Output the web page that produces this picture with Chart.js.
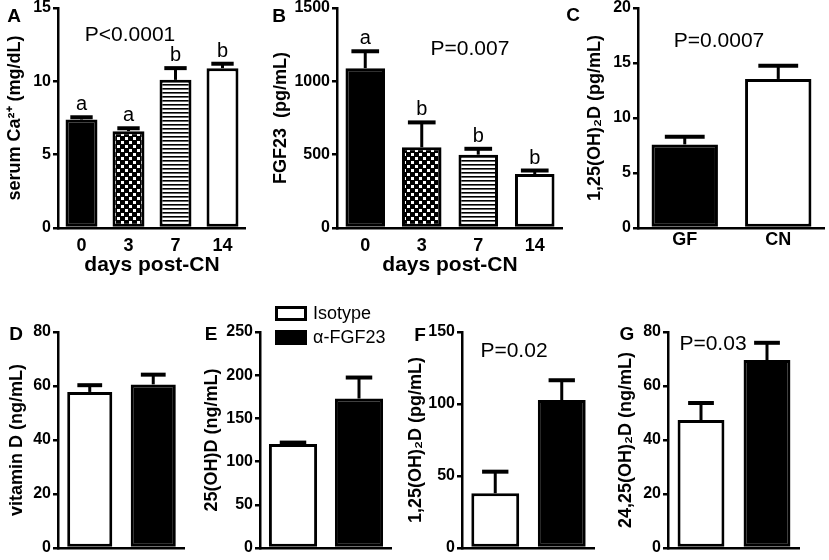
<!DOCTYPE html>
<html>
<head>
<meta charset="utf-8" />
<title>Serum Ca, FGF23 and vitamin D metabolites</title>
<style>
  body { margin: 0; width: 829px; height: 560px; position: relative; overflow: hidden; background: #fff;
         font-family: "Liberation Sans", Arial, sans-serif; color: #000; }
  canvas { position: absolute; }
  .txt { position: absolute; white-space: nowrap; transform: translate(-50%, -50%); }
  .let { font-weight: bold; font-size: 19px; line-height: 19px; }
  .pv { font-size: 21px; line-height: 21px; }
  .key { position: absolute; box-sizing: border-box; border: 3px solid #000; }
  .keytxt { position: absolute; font-size: 18px; line-height: 18px; transform: translateY(-50%); white-space: nowrap; }
</style>
</head>
<body>

<script src="https://cdn.jsdelivr.net/npm/chart.js"></script>
<script>
// --- data ---
// A: serum Ca2+ after CN
var days = ["0", "3", "7", "14"];
var caMean = [7.4, 6.6, 10.1, 10.9];
var caErr = [0.15, 0.2, 0.8, 0.3];
var caLetters = ["a", "a", "b", "b"];
var caTicks = [0, 5, 10, 15];
// B: FGF23 after CN
var fgfMean = [1090, 550, 500, 368];
var fgfErr = [115, 170, 40, 24];
var fgfLetters = ["a", "b", "b", "b"];
var fgfTicks = [0, 500, 1000, 1500];
// C: 1,25(OH)2D GF vs CN
var gfcn = ["GF", "CN"];
var calcitriolC = [7.6, 13.55];
var calcitriolCErr = [0.7, 1.2];
var calcitriolCTicks = [0, 5, 10, 15, 20];
// D-G: Isotype vs anti-FGF23
var treat = ["Isotype", "α-FGF23"];
var vitD = [57.8, 60.6];
var vitDErr = [2.5, 3.6];
var vitDTicks = [0, 20, 40, 60, 80];
var d25 = [120.4, 173];
var d25Err = [1.6, 24.3];
var d25Ticks = [0, 50, 100, 150, 200, 250];
var d125 = [38, 102.7];
var d125Err = [15, 13.8];
var d125Ticks = [0, 50, 100, 150];
var d2425 = [47.4, 69.6];
var d2425Err = [6.3, 6.4];
var d2425Ticks = [0, 20, 40, 60, 80];

// p values and panel letters
var pvals = [["P<0.0001", 130, 33], ["P=0.007", 470, 47], ["P=0.0007", 719, 39], ["P=0.02", 514, 349], ["P=0.03", 713, 342]];
var panelLetters = [["A", 14, 15], ["B", 279, 15], ["C", 573, 14], ["D", 16, 333], ["E", 211, 333], ["F", 420, 334], ["G", 627, 333]];

Chart.defaults.font.family = '"Liberation Sans", Arial, sans-serif';
Chart.defaults.color = "#000";

// fills
function dotFill() {
  var c = document.createElement("canvas");
  c.width = 8; c.height = 8;
  var g = c.getContext("2d");
  g.fillStyle = "#000"; g.fillRect(0, 0, 8, 8);
  g.fillStyle = "#fff"; g.fillRect(1, 1, 3, 3); g.fillRect(5, 5, 3, 3);
  return g.createPattern(c, "repeat");
}
function stripeFill() {
  var c = document.createElement("canvas");
  c.width = 4; c.height = 4;
  var g = c.getContext("2d");
  g.fillStyle = "#fff"; g.fillRect(0, 0, 4, 4);
  g.fillStyle = "#000"; g.fillRect(0, 0, 4, 1.6);
  return g.createPattern(c, "repeat");
}
var fillsDays = ["#000", dotFill(), stripeFill(), "#fff"];
var fillsGFCN = ["#000", "#fff"];
var fillsTreat = ["#fff", "#000"];

// error bars + letters above them
var errBars = {
  id: "errBars",
  afterDatasetsDraw: function (chart, args, opts) {
    var ctx = chart.ctx, x = chart.scales.x, y = chart.scales.y;
    var ds = chart.data.datasets[0];
    var meta = chart.getDatasetMeta(0);
    ctx.save();
    ctx.strokeStyle = "#000";
    ctx.fillStyle = "#000";
    meta.data.forEach(function (bar, i) {
      var v = ds.data[i];
      var px = x.getPixelForValue(i);
      var yBar = y.getPixelForValue(v);
      var yTop = y.getPixelForValue(v + opts.err[i]);
      var half = bar.width * opts.cap / 2;
      ctx.lineWidth = 3;
      ctx.beginPath(); ctx.moveTo(px, yBar); ctx.lineTo(px, yTop); ctx.stroke();
      ctx.lineWidth = 4;
      ctx.beginPath(); ctx.moveTo(px - half, yTop); ctx.lineTo(px + half, yTop); ctx.stroke();
      if (opts.letters) {
        ctx.font = '20px "Liberation Sans", Arial, sans-serif';
        ctx.textAlign = "center";
        ctx.textBaseline = "alphabetic";
        ctx.fillText(opts.letters[i], px, yTop - 7);
      }
    });
    ctx.restore();
  }
};

function panel(s) {
  var cv = document.createElement("canvas");
  cv.width = s.w; cv.height = s.h;
  cv.style.left = s.left + "px";
  cv.style.top = s.top + "px";
  document.body.appendChild(cv);
  return new Chart(cv, {
    type: "bar",
    data: {
      labels: s.labels,
      datasets: [{
        data: s.data,
        backgroundColor: s.fills,
        borderColor: "#000",
        borderWidth: 3,
        borderSkipped: false,
        barPercentage: s.barPct,
        categoryPercentage: 1
      }]
    },
    options: {
      responsive: false,
      animation: false,
      layout: { padding: { top: s.padTop, left: 0, right: 0, bottom: 0 } },
      plugins: {
        legend: { display: false },
        tooltip: { enabled: false },
        errBars: { err: s.err, letters: s.letters, cap: s.capPct }
      },
      scales: {
        x: {
          grid: { display: false, drawTicks: false },
          border: { display: true, color: "#000", width: 2.5 },
          ticks: { display: s.showX, padding: s.xPad, font: { size: 18, weight: "bold" } },
          title: { display: !!s.xTitle, text: s.xTitle, font: { size: 21, weight: "bold" }, padding: { top: 0, bottom: 4 } },
          afterFit: function (sc) { sc.height = s.xH; }
        },
        y: {
          min: s.ticks[0],
          max: s.ticks[s.ticks.length - 1],
          afterBuildTicks: function (sc) { sc.ticks = s.ticks.map(function (v) { return { value: v }; }); },
          grid: { drawOnChartArea: false, drawTicks: true, tickLength: 5, lineWidth: 2.5, color: "#000" },
          border: { display: true, color: "#000", width: 2.5 },
          ticks: { padding: 2, font: { size: 16, weight: "bold" }, callback: function (v) { return String(v); } },
          title: { display: true, text: s.yTitle, font: { size: 18, weight: "bold" }, padding: { top: s.yTitlePad, bottom: 0 } },
          afterFit: function (sc) { sc.width = s.yW; }
        }
      }
    },
    plugins: [errBars]
  });
}

// top row: plot area y 8..228
panel({ left: 0, top: -12, w: 246, h: 294, padTop: 20, yW: 58, xH: 54, yTitlePad: 4,
  labels: days, data: caMean, err: caErr, letters: caLetters, ticks: caTicks, fills: fillsDays,
  yTitle: "serum Ca²⁺ (mg/dL)", xTitle: "days post-CN", showX: true, xPad: 7, barPct: 0.68, capPct: 0.7 });
panel({ left: 262, top: -12, w: 301, h: 294, padTop: 20, yW: 75, xH: 54, yTitlePad: 8,
  labels: days, data: fgfMean, err: fgfErr, letters: fgfLetters, ticks: fgfTicks, fills: fillsDays,
  yTitle: "FGF23  (pg/mL)", xTitle: "days post-CN", showX: true, xPad: 7, barPct: 0.7, capPct: 0.7 });
panel({ left: 575, top: -12, w: 250, h: 294, padTop: 20, yW: 63, xH: 54, yTitlePad: 9,
  labels: gfcn, data: calcitriolC, err: calcitriolCErr, ticks: calcitriolCTicks, fills: fillsGFCN,
  yTitle: "1,25(OH)₂D (pg/mL)", showX: true, xPad: 1, barPct: 0.71, capPct: 0.6 });

// bottom row: plot area y 332..548
panel({ left: 0, top: 300, w: 185, h: 260, padTop: 32, yW: 58, xH: 12, yTitlePad: 6,
  labels: treat, data: vitD, err: vitDErr, ticks: vitDTicks, fills: fillsTreat,
  yTitle: "vitamin D (ng/mL)", showX: false, xPad: 0, barPct: 0.71, capPct: 0.55 });
panel({ left: 195, top: 300, w: 197, h: 260, padTop: 32, yW: 65, xH: 12, yTitlePad: 6,
  labels: treat, data: d25, err: d25Err, ticks: d25Ticks, fills: fillsTreat,
  yTitle: "25(OH)D (ng/mL)", showX: false, xPad: 0, barPct: 0.73, capPct: 0.55 });
panel({ left: 400, top: 300, w: 195, h: 260, padTop: 32, yW: 62, xH: 12, yTitlePad: 5,
  labels: treat, data: d125, err: d125Err, ticks: d125Ticks, fills: fillsTreat,
  yTitle: "1,25(OH)₂D (pg/mL)", showX: false, xPad: 0, barPct: 0.72, capPct: 0.55 });
panel({ left: 605, top: 300, w: 195, h: 260, padTop: 32, yW: 63, xH: 12, yTitlePad: 10,
  labels: treat, data: d2425, err: d2425Err, ticks: d2425Ticks, fills: fillsTreat,
  yTitle: "24,25(OH)₂D (ng/mL)", showX: false, xPad: 0, barPct: 0.71, capPct: 0.55 });

// text overlays
function addText(cls, t, x, y) {
  var d = document.createElement("div");
  d.className = "txt " + cls;
  d.textContent = t;
  d.style.left = x + "px";
  d.style.top = y + "px";
  document.body.appendChild(d);
}
pvals.forEach(function (p) { addText("pv", p[0], p[1], p[2]); });
panelLetters.forEach(function (p) { addText("let", p[0], p[1], p[2]); });

// legend for D-G
treat.forEach(function (name, i) {
  var b = document.createElement("div");
  b.className = "key";
  b.style.left = "275px";
  b.style.top = (306 + i * 24) + "px";
  b.style.width = "32px";
  b.style.height = "15px";
  b.style.background = fillsTreat[i];
  document.body.appendChild(b);
  var t = document.createElement("div");
  t.className = "keytxt";
  t.textContent = name;
  t.style.left = "313px";
  t.style.top = (313 + i * 24) + "px";
  document.body.appendChild(t);
});
</script>
</body>
</html>
